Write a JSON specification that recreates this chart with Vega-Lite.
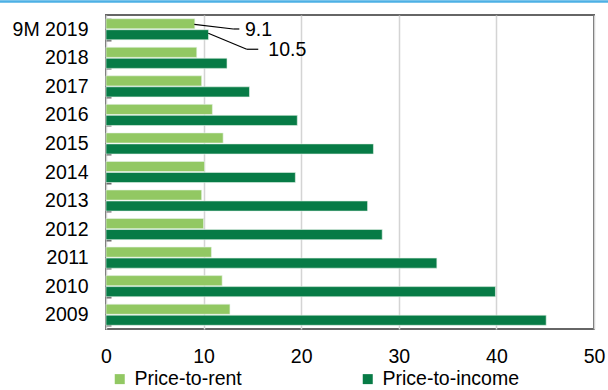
{
  "$schema": "https://vega.github.io/schema/vega-lite/v6.json",
  "width": 488,
  "height": 314,
  "autosize": "none",
  "padding": {"left": 106, "top": 15, "right": 14, "bottom": 61},
  "background": "white",
  "config": {
    "font": "Liberation Sans",
    "view": {"stroke": "#666666", "strokeWidth": 2},
    "axis": {"labelFont": "Liberation Sans", "labelColor": "#000000", "labelFontSize": 19.5}
  },
  "datasets": {
    "bars": [
      {"year": "9M 2019", "series": "Price-to-rent", "value": 9.1},
      {"year": "9M 2019", "series": "Price-to-income", "value": 10.5},
      {"year": "2018", "series": "Price-to-rent", "value": 9.3},
      {"year": "2018", "series": "Price-to-income", "value": 12.4},
      {"year": "2017", "series": "Price-to-rent", "value": 9.8},
      {"year": "2017", "series": "Price-to-income", "value": 14.7},
      {"year": "2016", "series": "Price-to-rent", "value": 10.9},
      {"year": "2016", "series": "Price-to-income", "value": 19.6},
      {"year": "2015", "series": "Price-to-rent", "value": 12.0},
      {"year": "2015", "series": "Price-to-income", "value": 27.4},
      {"year": "2014", "series": "Price-to-rent", "value": 10.1},
      {"year": "2014", "series": "Price-to-income", "value": 19.4},
      {"year": "2013", "series": "Price-to-rent", "value": 9.8},
      {"year": "2013", "series": "Price-to-income", "value": 26.8},
      {"year": "2012", "series": "Price-to-rent", "value": 10.0},
      {"year": "2012", "series": "Price-to-income", "value": 28.3},
      {"year": "2011", "series": "Price-to-rent", "value": 10.8},
      {"year": "2011", "series": "Price-to-income", "value": 33.9},
      {"year": "2010", "series": "Price-to-rent", "value": 11.9},
      {"year": "2010", "series": "Price-to-income", "value": 39.9},
      {"year": "2009", "series": "Price-to-rent", "value": 12.7},
      {"year": "2009", "series": "Price-to-income", "value": 45.1}
    ],
    "leaders": [
      {"x": 9.05, "y": 0.326, "x2": 13.04, "y2": 0.49},
      {"x": 13.04, "y": 0.49, "x2": 13.66, "y2": 0.49},
      {"x": 10.48, "y": 0.64, "x2": 14.42, "y2": 1.2},
      {"x": 14.42, "y": 1.2, "x2": 15.6, "y2": 1.2}
    ],
    "labels": [
      {"x": 14.24, "y": 0.52, "text": "9.1"},
      {"x": 16.63, "y": 1.21, "text": "10.5"}
    ],
    "topline": [
      {"x": -10.9, "x2": 51.5, "y": -0.47}
    ]
  },
  "layer": [
    {
      "data": {"name": "bars"},
      "mark": {"type": "bar", "stroke": "#e6f4ea", "strokeWidth": 0.6},
      "encoding": {
        "y": {
          "field": "year", "type": "nominal",
          "sort": ["9M 2019", "2018", "2017", "2016", "2015", "2014", "2013", "2012", "2011", "2010", "2009"],
          "scale": {"paddingInner": 0.26, "paddingOuter": 0.13},
          "axis": {"title": null, "domain": false, "tickBand": "extent", "ticks": true, "tickSize": -5, "tickColor": "#666666", "tickWidth": 2, "labelPadding": 23, "grid": false}
        },
        "yOffset": {
          "field": "series", "type": "nominal",
          "sort": ["Price-to-rent", "Price-to-income"],
          "scale": {"paddingInner": 0.08}
        },
        "x": {
          "field": "value", "type": "quantitative",
          "scale": {"domain": [0, 50], "nice": false},
          "axis": {"title": null, "values": [0, 10, 20, 30, 40, 50], "domain": false, "ticks": false, "labelFlush": false, "labelPadding": 18, "grid": true, "gridColor": "#d4d4d4", "gridWidth": 1.5}
        },
        "color": {
          "field": "series", "type": "nominal",
          "scale": {"domain": ["Price-to-rent", "Price-to-income"], "range": ["#92C863", "#077B46"]},
          "legend": {
            "title": null, "orient": "none", "legendX": 4, "legendY": 354,
            "direction": "horizontal", "columns": 2, "columnPadding": 116,
            "symbolType": "square", "symbolSize": 100, "symbolStrokeWidth": 0,
            "labelFontSize": 19.5, "labelFont": "Liberation Sans", "labelColor": "#000000", "labelOffset": 5, "labelLimit": 300
          }
        }
      }
    },
    {
      "layer": [
        {
          "data": {"name": "leaders"},
          "mark": {"type": "rule", "color": "#000000", "strokeWidth": 1.2},
          "encoding": {
            "x": {"field": "x", "type": "quantitative"},
            "x2": {"field": "x2"},
            "y": {"field": "y", "type": "quantitative", "scale": {"domain": [0, 11], "reverse": true, "nice": false, "zero": false}, "axis": null},
            "y2": {"field": "y2"}
          }
        },
        {
          "data": {"name": "labels"},
          "mark": {"type": "text", "align": "left", "baseline": "middle", "fontSize": 19.5, "font": "Liberation Sans", "color": "#000000"},
          "encoding": {
            "x": {"field": "x", "type": "quantitative"},
            "y": {"field": "y", "type": "quantitative"},
            "text": {"field": "text"}
          }
        },
        {
          "data": {"name": "topline"},
          "mark": {"type": "rule", "color": "#4DB0E5", "strokeWidth": 2.5},
          "encoding": {
            "x": {"field": "x", "type": "quantitative"},
            "x2": {"field": "x2"},
            "y": {"field": "y", "type": "quantitative"}
          }
        }
      ]
    }
  ],
  "resolve": {"scale": {"y": "independent"}}
}
